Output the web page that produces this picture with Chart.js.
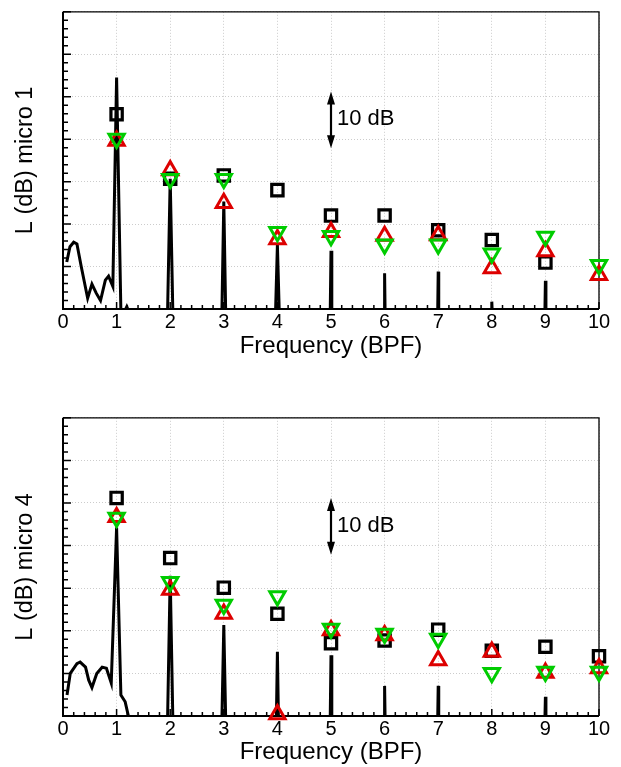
<!DOCTYPE html>
<html>
<head>
<meta charset="utf-8">
<script src="https://cdn.jsdelivr.net/npm/chart.js@4.4.1/dist/chart.umd.min.js"></script>
<style>
  html, body { margin: 0; padding: 0; background: #fff; }
  #page { position: relative; width: 621px; height: 767px; }
  .box { position: absolute; left: 0; width: 621px; height: 361px; }
</style>
</head>
<body>
<div id="page">
  <div class="box" style="top:0"><canvas id="micro1"></canvas></div>
  <div class="box" style="top:406px"><canvas id="micro4"></canvas></div>
</div>
<script>
// harmonics of the blade passing frequency
const harmonics = [1, 2, 3, 4, 5, 6, 7, 8, 9, 10];

// micro 1 : measured spectrum (black line), levels below 0 are off the axis
const specFreq1 = [0.07, 0.13, 0.2, 0.26, 0.34, 0.46, 0.54, 0.62, 0.7, 0.79, 0.85, 0.93, 1.0, 1.08, 1.13, 1.19, 1.25,
  1.95, 2.0, 2.05, 2.964, 3.0, 3.036, 3.964, 4.0, 4.036, 4.985, 5.0, 5.015, 5.99, 6.0, 6.01,
  6.99, 7.0, 7.01, 7.99, 8.0, 8.01, 8.99, 9.0, 9.01, 10.0];
const specLevel1 = [8.3, 11.0, 11.8, 11.5, 7.5, 1.9, 4.4, 2.8, 1.5, 5.1, 5.8, 4.0, 40.9, -0.5, -0.8, 0.4, -1,
  -1, 23.0, -1, -1, 19.0, -1, -1, 11.3, -1, -1, 10.3, -1, -1, 6.3, -1,
  -1, 6.6, -1, -1, 1.3, -1, -1, 5.0, -1, -1];
// micro 1 : predictions at the harmonics
const square1 = [34.4, 23.0, 23.6, 21.0, 16.5, 16.5, 13.9, 12.2, 8.2, null];
const up1 = [29.7, 24.5, 18.7, 12.3, 13.6, 12.9, 13.0, 7.2, 10.2, 6.0];
const down1 = [30.1, 23.0, 23.0, 13.6, 12.9, 11.4, 11.4, 9.8, 12.8, 7.8];

// micro 4
const specFreq4 = [0.075, 0.136, 0.26, 0.32, 0.42, 0.48, 0.54, 0.63, 0.73, 0.81, 0.9, 1.0, 1.08, 1.16, 1.22, 1.26,
  1.95, 2.0, 2.05, 2.964, 3.0, 3.036, 3.98, 4.0, 4.02, 4.985, 5.0, 5.015, 5.99, 6.0, 6.01,
  6.99, 7.0, 7.01, 8.99, 9.0, 9.01, 10.0];
const specLevel4 = [3.7, 7.5, 9.2, 9.5, 8.6, 6.3, 5.0, 7.5, 8.6, 8.4, 5.8, 33.2, 3.7, 2.5, 0, -1,
  -1, 24.7, -1, -1, 16.0, -1, -1, 11.3, -1, -1, 10.7, -1, -1, 5.3, -1,
  -1, 5.3, -1, -1, 3.4, -1, -1];
const square4 = [38.4, 27.8, 22.6, 18.0, 12.8, 13.3, 15.2, 11.5, 12.2, 10.5];
const up4 = [35.0, 22.2, 18.0, 0.3, 15.1, 14.2, 9.8, 11.3, 7.6, 8.4];
const down4 = [34.9, 23.6, 19.6, 21.1, 15.4, 14.5, 13.6, 7.6, 7.8, 7.8];

// scale annotation
const arrowAt = 5;
const arrowLow = 28.4;
const arrowHigh = 38.4;
const arrowText = '10 dB';
const arrowTextLevel = 33.5;

const xTicks = [0, 1, 2, 3, 4, 5, 6, 7, 8, 9, 10];

const FONT = '"Liberation Sans", Arial, Helvetica, sans-serif';
const RED = '#dd0000';
const GREEN = '#00cc00';

// frame with inward major / minor ticks
const frameTicks = {
  id: 'frameTicks',
  beforeDatasetsDraw(chart) {
    const { ctx, chartArea: a, scales: { x, y } } = chart;
    ctx.save();
    ctx.strokeStyle = '#000';
    ctx.lineWidth = 1.5;
    ctx.beginPath();
    for (let i = 0; i <= 50; i++) {
      const px = x.getPixelForValue(i * 0.2);
      const len = i % 5 === 0 ? 7 : 4;
      ctx.moveTo(px, a.bottom);
      ctx.lineTo(px, a.bottom - len);
    }
    for (let i = 0; i <= 35; i++) {
      const py = y.getPixelForValue(i * 1.5);
      const len = i % 5 === 0 ? 8 : 5;
      ctx.moveTo(a.left, py);
      ctx.lineTo(a.left + len, py);
    }
    ctx.stroke();
    // top and right edges
    ctx.lineWidth = 1.3;
    ctx.beginPath();
    ctx.moveTo(a.left, a.top);
    ctx.lineTo(a.right, a.top);
    ctx.lineTo(a.right, a.bottom);
    ctx.stroke();
    // left and bottom axes
    ctx.lineWidth = 2;
    ctx.beginPath();
    ctx.moveTo(a.left, a.top);
    ctx.lineTo(a.left, a.bottom);
    ctx.lineTo(a.right, a.bottom);
    ctx.stroke();
    ctx.restore();
  }
};

// double arrow with "10 dB"
const dbArrow = {
  id: 'dbArrow',
  afterDatasetsDraw(chart) {
    const { ctx, scales: { x, y } } = chart;
    const px = x.getPixelForValue(arrowAt);
    const top = y.getPixelForValue(arrowHigh);
    const bot = y.getPixelForValue(arrowLow);
    const head = 13, half = 4;
    ctx.save();
    ctx.strokeStyle = '#000';
    ctx.fillStyle = '#000';
    ctx.lineWidth = 2.2;
    ctx.beginPath();
    ctx.moveTo(px, top + head - 2);
    ctx.lineTo(px, bot - head + 2);
    ctx.stroke();
    ctx.beginPath();
    ctx.moveTo(px, top);
    ctx.lineTo(px - half, top + head);
    ctx.lineTo(px + half, top + head);
    ctx.closePath();
    ctx.moveTo(px, bot);
    ctx.lineTo(px - half, bot - head);
    ctx.lineTo(px + half, bot - head);
    ctx.closePath();
    ctx.fill();
    ctx.font = '22px ' + FONT;
    ctx.textAlign = 'left';
    ctx.textBaseline = 'middle';
    ctx.fillText(arrowText, px + 6, y.getPixelForValue(arrowTextLevel));
    ctx.restore();
  }
};

function toPoints(xs, ys) {
  return xs.map((v, i) => ({ x: v, y: ys[i] }));
}

function makeChart(id, yTitle, freq, level, sq, up, down, xAxisHeight) {
  return new Chart(document.getElementById(id), {
    type: 'scatter',
    data: {
      datasets: [
        {
          label: 'spectrum', data: toPoints(freq, level), showLine: true,
          borderColor: '#000', borderWidth: 3, pointRadius: 0, clip: 0, order: 4
        },
        {
          label: 'square', data: toPoints(harmonics, sq), pointStyle: 'rect',
          pointRadius: 8, borderColor: '#000', borderWidth: 3.2,
          backgroundColor: 'rgba(0,0,0,0)', clip: false, order: 3
        },
        {
          label: 'up', data: toPoints(harmonics, up), pointStyle: 'triangle',
          pointRadius: 8.8, borderColor: RED, borderWidth: 3,
          backgroundColor: 'rgba(0,0,0,0)', clip: false, order: 2
        },
        {
          label: 'down', data: toPoints(harmonics, down), pointStyle: 'triangle', rotation: 180,
          pointRadius: 8.8, borderColor: GREEN, borderWidth: 3,
          backgroundColor: 'rgba(0,0,0,0)', clip: false, order: 1
        }
      ]
    },
    options: {
      responsive: true,
      maintainAspectRatio: false,
      animation: false,
      layout: { padding: { left: 0, right: 22, top: 10, bottom: 0 } },
      plugins: { legend: { display: false }, tooltip: { enabled: false } },
      scales: {
        x: {
          type: 'linear', min: 0, max: 10,
          afterBuildTicks: s => { s.ticks = xTicks.map(v => ({ value: v })); },
          ticks: { font: { size: 20, family: FONT }, color: '#000', padding: 1, maxRotation: 0 },
          grid: { color: '#cccccc', lineWidth: 1, drawTicks: false },
          border: { display: false, dash: [1, 2] },
          title: { display: true, text: 'Frequency (BPF)', color: '#000', font: { size: 24, family: FONT }, padding: 0 },
          afterFit: s => { s.height = xAxisHeight; }
        },
        y: {
          type: 'linear', min: 0, max: 52.5,
          ticks: { stepSize: 7.5, display: false },
          grid: { color: '#cccccc', lineWidth: 1, drawTicks: false },
          border: { display: false, dash: [1, 2] },
          title: { display: true, text: yTitle, color: '#000', font: { size: 23.5, family: FONT }, padding: { top: 11, bottom: 0 } },
          afterFit: s => { s.width = 63; }
        }
      }
    },
    plugins: [frameTicks, dbArrow]
  });
}

makeChart('micro1', 'L (dB) micro 1', specFreq1, specLevel1, square1, up1, down1, 52);
makeChart('micro4', 'L (dB) micro 4', specFreq4, specLevel4, square4, up4, down4, 51);
</script>
</body>
</html>
